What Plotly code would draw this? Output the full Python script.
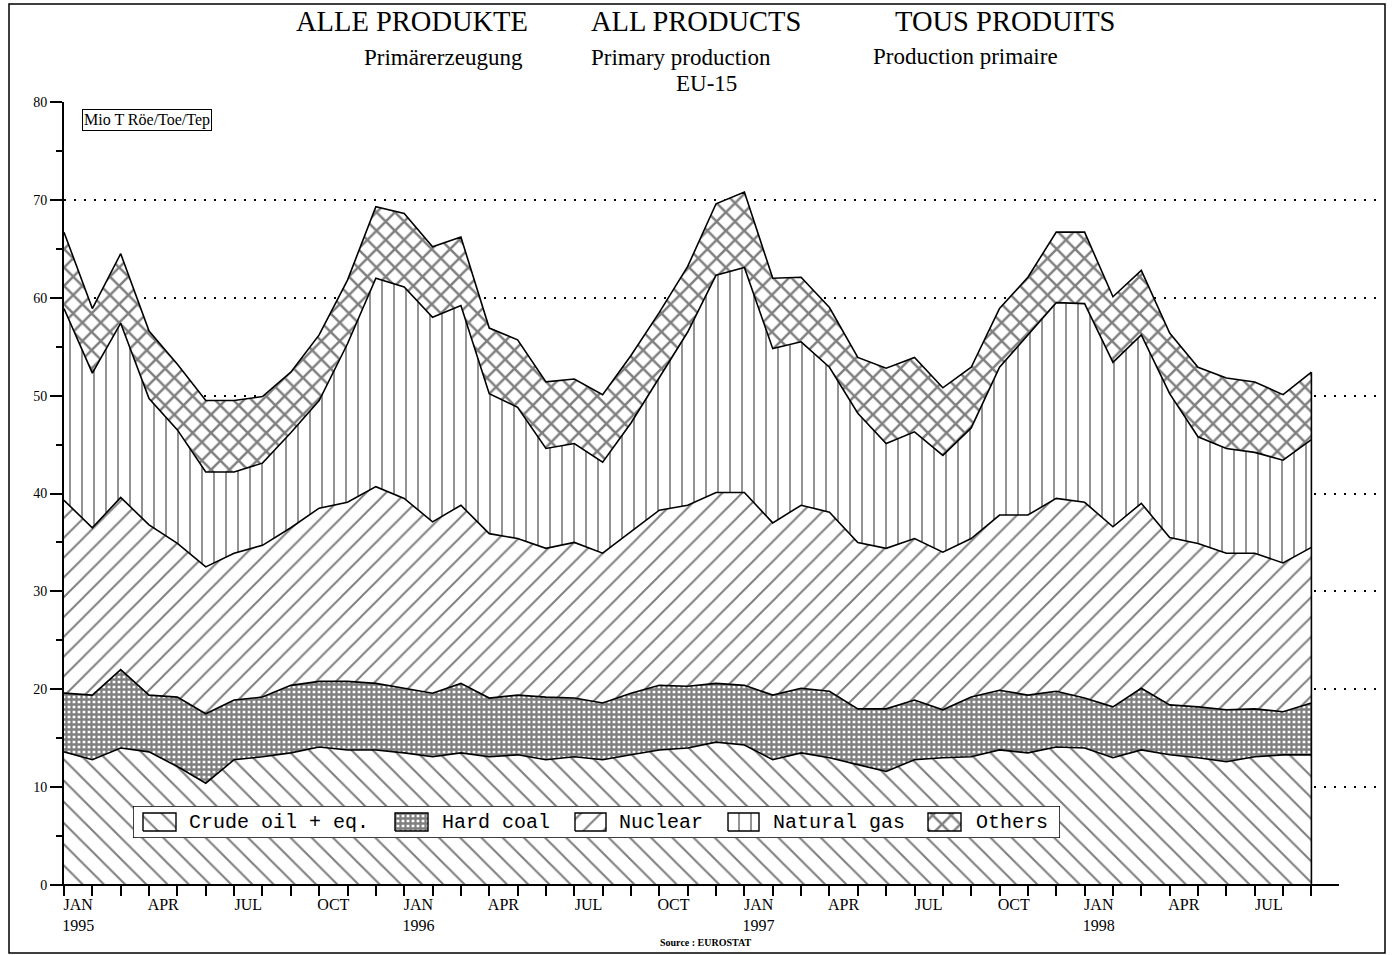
import plotly.graph_objects as go

# ---------------- data (Mio t oil equivalent), Jan 1995 .. Sep 1998 ----------------
months = list(range(45))
month_names = ["JAN", "APR", "JUL", "OCT"]
years = ["1995", "1996", "1997", "1998"]

crude_oil = [13.6, 12.8, 14.0, 13.6, 12.1, 10.4, 12.8, 13.1, 13.5, 14.1, 13.8, 13.8,
             13.5, 13.1, 13.5, 13.1, 13.3, 12.8, 13.1, 12.8, 13.3, 13.8, 14.0, 14.6,
             14.3, 12.8, 13.5, 13.0, 12.3, 11.6, 12.8, 13.0, 13.1, 13.8, 13.5, 14.1,
             14.0, 13.0, 13.8, 13.3, 13.0, 12.6, 13.1, 13.3, 13.3]
hard_coal = [6.0, 6.6, 8.0, 5.8, 7.1, 7.1, 6.1, 6.1, 6.9, 6.7, 7.0, 6.8,
             6.6, 6.5, 7.1, 6.0, 6.1, 6.4, 6.0, 5.8, 6.3, 6.6, 6.3, 6.0,
             6.1, 6.6, 6.6, 6.8, 5.7, 6.4, 6.1, 4.9, 6.1, 6.1, 5.9, 5.7,
             5.1, 5.2, 6.3, 5.1, 5.2, 5.3, 4.9, 4.4, 5.3]
nuclear = [19.7, 17.1, 17.6, 17.4, 15.7, 15.0, 15.0, 15.5, 16.1, 17.7, 18.3, 20.1,
           19.4, 17.5, 18.2, 16.8, 16.0, 15.2, 15.9, 15.3, 16.5, 17.9, 18.5, 19.5,
           19.7, 17.6, 18.7, 18.3, 17.0, 16.4, 16.5, 16.1, 16.2, 17.9, 18.4, 19.7,
           20.0, 18.4, 18.9, 17.1, 16.7, 16.0, 15.9, 15.2, 15.9]
natural_gas = [19.6, 15.8, 17.8, 12.9, 11.6, 9.7, 8.3, 8.4, 9.7, 11.0, 16.2, 21.3,
               21.6, 20.9, 20.4, 14.3, 13.4, 10.2, 10.1, 9.3, 11.1, 13.6, 17.7, 22.2,
               23.0, 17.8, 16.7, 14.8, 13.2, 10.7, 10.9, 9.9, 11.3, 15.1, 18.4, 20.0,
               20.3, 16.8, 17.2, 14.7, 10.9, 10.7, 10.3, 10.5, 11.0]
others = [7.8, 6.6, 7.1, 6.9, 6.7, 7.3, 7.3, 6.8, 6.2, 6.7, 6.5, 7.3,
          7.5, 7.2, 7.0, 6.7, 6.9, 6.8, 6.6, 6.9, 6.9, 6.6, 6.7, 7.3,
          7.7, 7.2, 6.6, 6.1, 5.7, 7.7, 7.6, 6.9, 6.2, 6.0, 5.9, 7.2,
          7.3, 6.7, 6.6, 6.2, 7.1, 7.2, 7.2, 6.7, 6.9]
series_names = ["Crude oil + eq.", "Hard coal", "Nuclear", "Natural gas", "Others"]

# ---------------- derived tick labels ----------------
tick_pos, tick_text = [], []
for m in months:
    if m % 3 == 0:
        lab = month_names[(m % 12) // 3]
        if m % 12 == 0:
            lab += "<br>" + years[m // 12]
        tick_pos.append(m + 0.5)
        tick_text.append(lab)

# ---------------- styling ----------------
W, H = 1396, 955
L, R, T, B = 64, 1380, 102, 885


def pxx(p):
    return (p - L) / (R - L)


def pxy(p):
    return (B - p) / (B - T)


patterns = [
    dict(shape="\\", size=15, solidity=0.14),
    dict(shape="+", size=5, solidity=0.7),
    dict(shape="/", size=14, solidity=0.14),
    dict(shape="|", size=12, solidity=0.14),
    dict(shape="x", size=13, solidity=0.35),
]
SERIF = "Liberation Serif"
MONO = "Liberation Mono"

fig = go.Figure()
all_series = [crude_oil, hard_coal, nuclear, natural_gas, others]
for name, vals, pat in zip(series_names, all_series, patterns):
    fig.add_trace(go.Scatter(
        x=months, y=vals, name=name, stackgroup="one", mode="lines",
        line=dict(color="black", width=1.6),
        fillcolor="white",
        fillpattern=dict(fgcolor="black", bgcolor="white", **pat),
        showlegend=False, hoverinfo="skip",
    ))

# right edge of the stacked area
total_last = sum(s[-1] for s in all_series)

# ---------------- custom legend (subplot x2/y2) ----------------
LEG_L, LEG_R, LEG_T, LEG_B = 133, 1060, 806, 838
leg_w, leg_h = LEG_R - LEG_L, LEG_B - LEG_T
fig.add_trace(go.Scatter(
    x=[0, leg_w, leg_w, 0, 0], y=[0, 0, leg_h, leg_h, 0], xaxis="x2", yaxis="y2",
    mode="lines", fill="toself", fillcolor="white",
    line=dict(color="black", width=1.5), showlegend=False, hoverinfo="skip"))
swatch_x = [(10, 43), (262, 295), (442, 473), (595, 626), (795, 828)]
text_x = [54, 307, 484, 638, 841]
for (sx0, sx1), pat in zip(swatch_x, patterns):
    fig.add_trace(go.Scatter(
        x=[sx0, sx1, sx1, sx0, sx0], y=[7, 7, 25, 25, 7], xaxis="x2", yaxis="y2",
        mode="lines", fill="toself", fillcolor="white",
        fillpattern=dict(fgcolor="black", bgcolor="white", **pat),
        line=dict(color="black", width=1.4), showlegend=False, hoverinfo="skip"))

annotations = []
for tx, name in zip(text_x, series_names):
    annotations.append(dict(x=tx, y=16, xref="x2", yref="y2", text=name, showarrow=False,
                            xanchor="left", yanchor="middle",
                            font=dict(family=MONO, size=20, color="black")))

titles = [
    ("ALLE PRODUKTE", 412, 22, 28.5), ("ALL PRODUCTS", 696, 22, 28.5), ("TOUS PRODUITS", 1005, 22, 28.5),
    ("Primärerzeugung", 443, 58, 23), ("Primary production", 681, 58, 23),
    ("Production primaire", 965, 57, 23), ("EU-15", 706, 83, 23),
]
for txt, cx, cy, fs in titles:
    annotations.append(dict(x=pxx(cx), y=pxy(cy), xref="paper", yref="paper", text=txt,
                            showarrow=False, xanchor="center", yanchor="middle",
                            font=dict(family=SERIF, size=fs, color="black")))
annotations.append(dict(x=pxx(82), y=pxy(120), xref="paper", yref="paper",
                        text="Mio T Röe/Toe/Tep", showarrow=False, xanchor="left",
                        yanchor="middle", bordercolor="black", borderwidth=1, borderpad=1,
                        bgcolor="white", font=dict(family=SERIF, size=16, color="black")))
annotations.append(dict(x=pxx(705), y=pxy(942), xref="paper", yref="paper",
                        text="<b>Source : EUROSTAT</b>", showarrow=False, xanchor="center",
                        yanchor="middle", font=dict(family=SERIF, size=10, color="black")))

shapes = [
    # x axis line
    dict(type="line", xref="paper", yref="paper", x0=pxx(52), x1=pxx(1339), y0=0, y1=0,
         line=dict(color="black", width=2), layer="above"),
    # right edge of area
    dict(type="line", xref="x", yref="y", x0=months[-1], x1=months[-1], y0=0, y1=total_last,
         line=dict(color="black", width=1.6), layer="above"),
    # outer frame
    dict(type="rect", xref="paper", yref="paper", x0=pxx(9), x1=pxx(1385), y0=pxy(953), y1=pxy(4),
         line=dict(color="black", width=1.5), layer="above"),
]

fig.update_layout(
    width=W, height=H,
    margin=dict(l=L, r=W - R, t=T, b=H - B, pad=0),
    paper_bgcolor="white", plot_bgcolor="white",
    showlegend=False,
    annotations=annotations, shapes=shapes,
    xaxis=dict(range=[0, (R - L) / 28.35], tickmode="array", tickvals=tick_pos, ticktext=tick_text,
               ticks="", showgrid=False, zeroline=False, showline=False,
               tickfont=dict(family=SERIF, size=16, color="black"), ticklabelstandoff=8,
               minor=dict(tickmode="array", tickvals=months, ticks="outside", ticklen=10,
                          tickwidth=1.5, tickcolor="black", showgrid=False)),
    yaxis=dict(range=[0, 80], dtick=10, tick0=0, ticks="outside", ticklen=12, tickwidth=1.5,
               tickcolor="black", showline=True, linewidth=2, linecolor="black",
               showgrid=True, gridcolor="black", gridwidth=1.5, griddash="2px,8px",
               zeroline=False, tickfont=dict(family=SERIF, size=14, color="black"),
               minor=dict(dtick=5, ticks="outside", ticklen=6, tickwidth=1.5,
                          tickcolor="black", showgrid=False)),
    xaxis2=dict(domain=[pxx(LEG_L), pxx(LEG_R)], range=[0, leg_w], visible=False,
                anchor="y2", fixedrange=True),
    yaxis2=dict(domain=[pxy(LEG_B), pxy(LEG_T)], range=[0, leg_h], visible=False,
                anchor="x2", fixedrange=True),
)

fig.write_html("out.html", config={"displayModeBar": False},
               post_script="document.body.style.margin='0';document.body.style.overflow='hidden';")
